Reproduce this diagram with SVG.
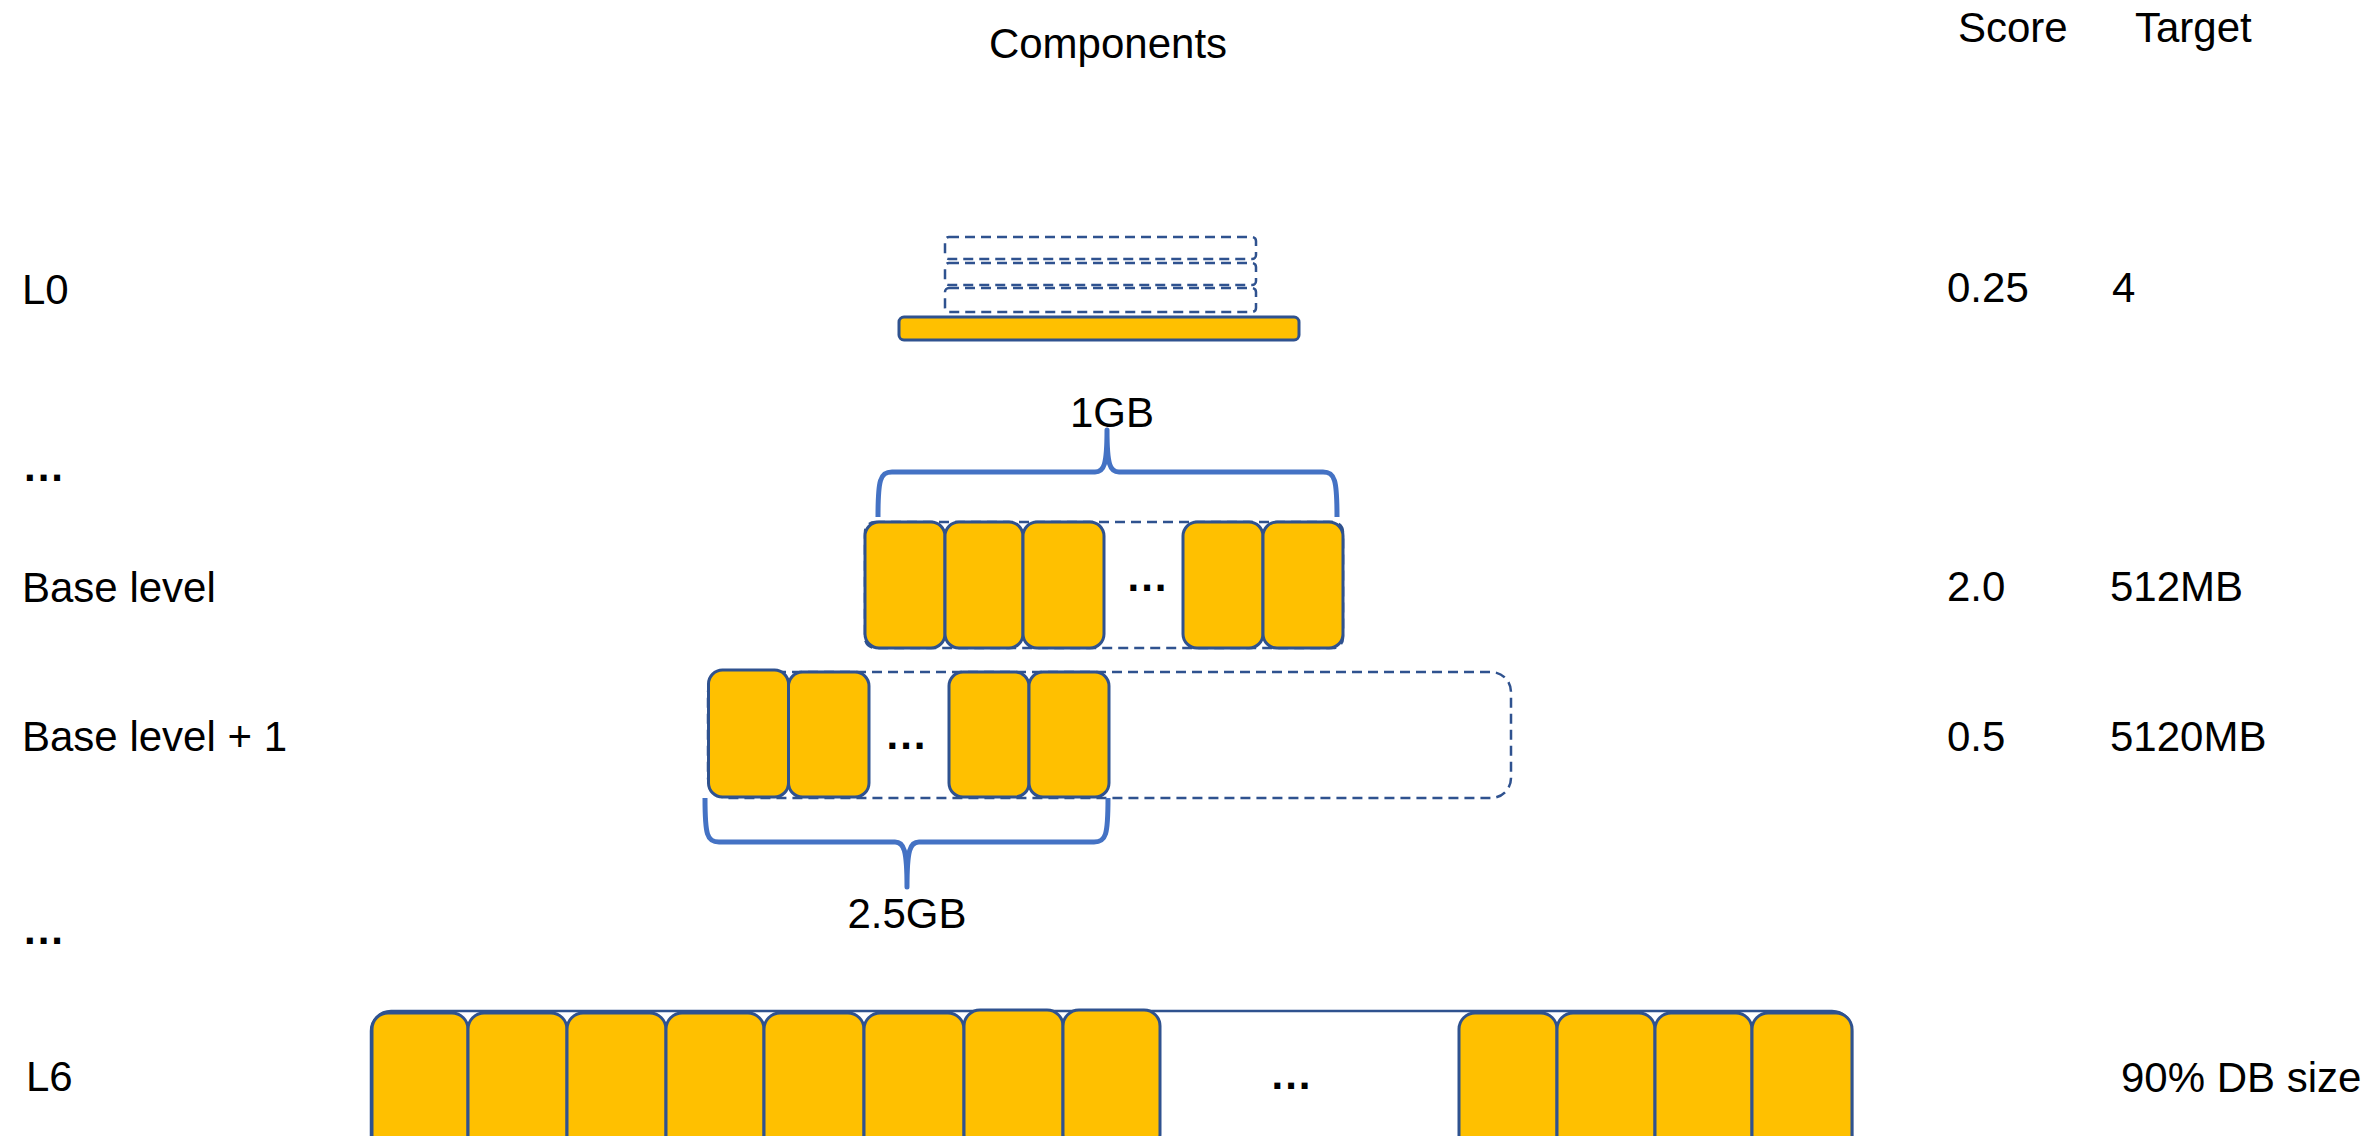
<svg xmlns="http://www.w3.org/2000/svg" width="2367" height="1136" viewBox="0 0 2367 1136">
<style>
text { font-family: "Liberation Sans", Arial, sans-serif; font-size: 42px; fill: #000; }
.mid { text-anchor: middle; }
.dots { font-weight: bold; letter-spacing: 2px; }
.sst { fill: #FFC000; stroke: #2F528F; stroke-width: 3; }
.dash { fill: none; stroke: #2F528F; stroke-width: 2.5; stroke-dasharray: 10 6; }
.brace { fill: none; stroke: #4472C4; stroke-width: 5; stroke-linejoin: round; }
.outline { fill: none; stroke: #2F528F; stroke-width: 2.5; }
</style>
<rect width="2367" height="1136" fill="#fff"/>

<g id="headers">
  <text x="1108" y="58" class="mid">Components</text>
  <text x="1958" y="42">Score</text>
  <text x="2135" y="42">Target</text>
</g>

<g id="row-labels">
  <text x="22" y="304">L0</text>
  <text x="24" y="481" class="dots">...</text>
  <text x="22" y="602">Base level</text>
  <text x="22" y="751">Base level + 1</text>
  <text x="24" y="944" class="dots">...</text>
  <text x="26" y="1091">L6</text>
</g>

<g id="scores">
  <text x="1947" y="302">0.25</text>
  <text x="2112" y="302">4</text>
  <text x="1947" y="601">2.0</text>
  <text x="2110" y="601">512MB</text>
  <text x="1947" y="751">0.5</text>
  <text x="2110" y="751">5120MB</text>
  <text x="2121" y="1092">90% DB size</text>
</g>

<g id="l0">
  <rect class="dash" x="945" y="237" width="311" height="22" rx="4"/>
  <rect class="dash" x="945" y="263" width="311" height="22" rx="4"/>
  <rect class="dash" x="945" y="288" width="311" height="24" rx="4"/>
  <rect class="sst" x="899" y="317" width="400" height="23" rx="5"/>
</g>

<g id="base-level">
  <rect class="dash" x="865" y="522" width="478" height="126" rx="10"/>
  <rect class="sst" x="865" y="522" width="80" height="126" rx="14"/>
  <rect class="sst" x="945" y="522" width="78" height="126" rx="14"/>
  <rect class="sst" x="1023" y="522" width="81" height="126" rx="14"/>
  <rect class="sst" x="1183" y="522" width="80" height="126" rx="14"/>
  <rect class="sst" x="1263" y="522" width="80" height="126" rx="14"/>
  <text x="1148" y="591" class="mid dots">...</text>
</g>

<g id="base-level-plus-1">
  <rect class="dash" x="708" y="672" width="803" height="126" rx="20"/>
  <rect class="sst" x="708.5" y="670" width="80" height="127" rx="14"/>
  <rect class="sst" x="788.5" y="672" width="80.5" height="125" rx="14"/>
  <rect class="sst" x="949" y="672" width="80" height="125" rx="14"/>
  <rect class="sst" x="1029" y="672" width="80" height="125" rx="14"/>
  <text x="907" y="749" class="mid dots">...</text>
</g>

<g id="l6">
  <rect class="outline" x="371" y="1011" width="1481" height="200" rx="20"/>
  <rect class="sst" x="372" y="1013" width="96" height="140" rx="16"/>
  <rect class="sst" x="468" y="1013" width="99" height="140" rx="16"/>
  <rect class="sst" x="567" y="1013" width="99" height="140" rx="16"/>
  <rect class="sst" x="666" y="1013" width="98" height="140" rx="16"/>
  <rect class="sst" x="764" y="1013" width="100" height="140" rx="16"/>
  <rect class="sst" x="864" y="1013" width="100" height="140" rx="16"/>
  <rect class="sst" x="964" y="1010" width="99" height="140" rx="16"/>
  <rect class="sst" x="1063" y="1010" width="97" height="140" rx="16"/>
  <rect class="sst" x="1459" y="1013" width="98" height="140" rx="16"/>
  <rect class="sst" x="1557" y="1013" width="98" height="140" rx="16"/>
  <rect class="sst" x="1655" y="1013" width="97" height="140" rx="16"/>
  <rect class="sst" x="1752" y="1013" width="100" height="140" rx="16"/>
  <text x="1292" y="1089" class="mid dots">...</text>
</g>

<g id="connectors">
  <path class="brace" d="M878,517 C878,480 880,472 892,472 L1095,472 C1104,472 1107,465 1107,430 C1107,465 1110,472 1119,472 L1323,472 C1335,472 1337,480 1337,517"/>
  <path class="brace" d="M705,798 C705,835 707,842 719,842 L895,842 C904,842 907,850 907,887 C907,850 910,842 919,842 L1094,842 C1106,842 1108,835 1108,798"/>
  <text x="1112" y="427" class="mid">1GB</text>
  <text x="907" y="928" class="mid">2.5GB</text>
</g>
</svg>
